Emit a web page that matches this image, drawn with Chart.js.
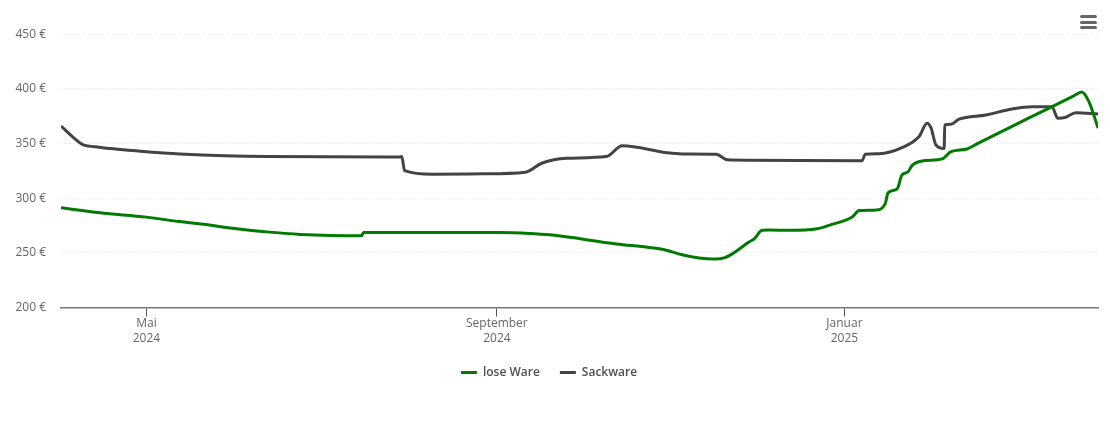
<!DOCTYPE html>
<html>
<head>
<meta charset="utf-8">
<style>
    html, body { margin: 0; padding: 0; background: #fff; }
    #wrap { position: relative; width: 1110px; height: 422px; }
    #menu { position: absolute; left: 1079.5px; top: 15px; width: 17px; }
    #menu span { display: block; height: 3px; margin-bottom: 2.5px; background: #666; border-radius: 2px; }
</style>
</head>
<body>
<div id="wrap">
    <canvas id="price-chart" width="1110" height="422"></canvas>
    <div id="menu"><span></span><span></span><span></span></div>
</div>
<script src="https://cdn.jsdelivr.net/npm/chart.js@4"></script>
<script>
// x values are days since 1 April 2024
var looseDays = [0, 13.7, 30, 41.7, 50, 60.3, 72.2, 84, 105.5, 106.2, 154, 164.4, 171.5, 195, 206.5, 211.8, 218, 224, 229.3, 232.8, 235.6, 241.6, 243.3, 246.1, 248.6, 255.6, 265.4, 269.6, 277.7, 280.2, 286.1, 289.3, 290.3, 293.5, 295.2, 297.3, 298.7, 302.2, 309.3, 312.4, 318, 321.5, 339.8, 355.5, 358.3, 360.8, 364];
var looseValues = [291.2, 286.6, 282.7, 278.6, 276.1, 272.6, 269.2, 266.9, 265.6, 268.6, 268.6, 267.8, 266.5, 258.2, 254.9, 252.8, 248.2, 245.2, 244.3, 245.4, 249.1, 260.1, 262.8, 270.6, 271, 270.6, 272, 275.2, 282.9, 288.7, 289.3, 294.8, 304.9, 308.5, 321.3, 324.1, 329.8, 334.1, 336, 342.6, 345.1, 349.7, 373.5, 393.6, 397.2, 388.4, 364.3];

var sackDays = [0, 4.9, 6.7, 8.4, 11.9, 17.2, 25.2, 41.7, 72.2, 118.9, 119.6, 120.6, 130.4, 148, 163, 168.7, 177.4, 191.4, 197, 212.5, 218, 230, 233.9, 241.6, 281.2, 282.3, 287.2, 295.2, 301.2, 304, 305.4, 307.1, 310, 310.2, 312.4, 315.2, 324.7, 333.8, 340.8, 347.8, 349.9, 352.7, 356.2, 364];
var sackValues = [366.1, 354.3, 350.6, 348.3, 347.2, 345.4, 343.6, 340.5, 338.1, 337.8, 338.1, 325.3, 322, 322.3, 323.8, 332, 336.6, 338.1, 347.9, 341.7, 340.5, 340.3, 335.1, 334.8, 334.4, 340.3, 340.8, 346.3, 356.4, 368.6, 364.3, 348.8, 345.4, 367, 367.7, 372.3, 376.2, 381.7, 383.8, 383.8, 373.2, 374.1, 378.3, 377.1];

var tickDays = [30, 153, 275];
var tickLabels = [['Mai', '2024'], ['September', '2024'], ['Januar', '2025']];

function toPoints(days, values) {
    return days.map(function (day, i) {
        return {x: day, y: values[i]};
    });
}

var labelFont = {family: '"Open Sans"', size: 12};

new Chart(document.getElementById('price-chart').getContext('2d'), {
    type: 'line',
    data: {
        datasets: [{
            label: 'lose Ware',
            data: toPoints(looseDays, looseValues),
            borderColor: '#007a00',
            backgroundColor: '#007a00',
            borderWidth: 3,
            pointRadius: 0,
            cubicInterpolationMode: 'monotone'
        }, {
            label: 'Sackware',
            data: toPoints(sackDays, sackValues),
            borderColor: '#434343',
            backgroundColor: '#434343',
            borderWidth: 3,
            pointRadius: 0,
            cubicInterpolationMode: 'monotone'
        }]
    },
    options: {
        responsive: false,
        animation: false,
        layout: {padding: {top: 34.3, right: 12, bottom: 33.5, left: 0}},
        plugins: {
            tooltip: {enabled: false},
            legend: {
                position: 'bottom',
                labels: {
                    usePointStyle: true,
                    pointStyle: 'line',
                    pointStyleWidth: 16,
                    padding: 20,
                    color: '#4f4f4f',
                    font: {family: '"Open Sans"', size: 12, weight: '600'}
                }
            }
        },
        scales: {
            x: {
                type: 'linear',
                min: 0,
                max: 364,
                afterBuildTicks: function (scale) {
                    scale.ticks = tickDays.map(function (day) {
                        return {value: day};
                    });
                },
                afterFit: function (scale) {
                    scale.height = 39;
                },
                grid: {drawOnChartArea: false, tickLength: 9, color: '#555'},
                border: {color: '#777', width: 1.5},
                ticks: {
                    autoSkip: false,
                    maxRotation: 0,
                    padding: 0,
                    color: '#666',
                    font: labelFont,
                    callback: function (value, index) {
                        return tickLabels[index];
                    }
                }
            },
            y: {
                min: 200,
                max: 450,
                afterFit: function (scale) {
                    scale.width = 61;
                },
                grid: {drawTicks: false, color: '#e6e6e6', lineWidth: 1},
                border: {display: false, dash: [1, 2]},
                ticks: {
                    stepSize: 50,
                    padding: 15,
                    color: '#666',
                    font: labelFont,
                    callback: function (value) {
                        return value + ' €';
                    }
                }
            }
        }
    }
});
</script>
</body>
</html>
